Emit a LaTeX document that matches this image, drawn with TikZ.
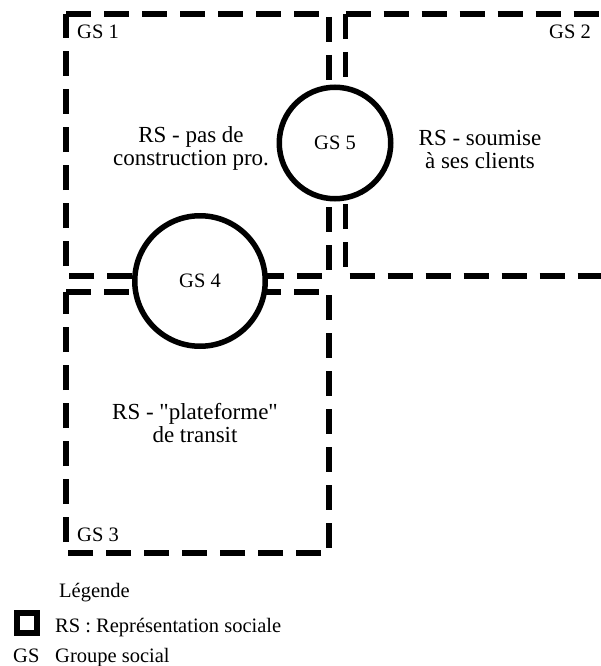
\documentclass[tikz,border=0pt]{standalone}
\usepackage{fontspec}
\setmainfont{Liberation Serif}[Ligatures=TeXOff]
\begin{document}
\begin{tikzpicture}[x=1pt,y=-1pt,
  gsbox/.style={line width=5.5pt, dash pattern=on 25pt off 13pt},
  gscircle/.style={circle, draw, line width=5.5pt, fill=white, inner sep=0pt,
    font=\fontsize{20.5}{22}\selectfont},
  gslabel/.style={font=\fontsize{20.5}{22}\selectfont, inner sep=0pt, anchor=base west},
  rslabel/.style={font=\fontsize{23}{23}\selectfont, align=center, inner sep=0pt},
  legendtext/.style={font=\fontsize{20.5}{24}\selectfont, inner sep=0pt, anchor=base west}]
\useasboundingbox (0,0) rectangle (601,666);

% GS 1 box
\draw[gsbox] (66,14) -- (329,14) -- (329,276) -- (66,276) -- cycle;
% GS 2 box (open to the right, cut by the page edge)
\begin{scope}
\clip (0,0) rectangle (601,666);
\draw[gsbox] (345.5,14) -- (620,14);
\draw[gsbox] (345.5,14) -- (345.5,276) -- (620,276);
\end{scope}
% GS 3 box
\draw[gsbox] (66,292) -- (329,292) -- (329,553) -- (66,553) -- cycle;

% circles
\node[gscircle, minimum size=130.5pt] (gs4) at (200,281) {GS 4};
\node[gscircle, minimum size=111.5pt] (gs5) at (335,143) {GS 5};

% group labels
\node[gslabel] (gs1) at (77,39) {GS 1};
\node[gslabel] (gs2) at (549,39) {GS 2};
\node[gslabel] (gs3) at (77,541) {GS 3};

% representation texts
\node[rslabel] (rs1) at (191,148) {RS - pas de\\construction pro.};
\node[rslabel] (rs2) at (480,149.5) {RS - soumise\\à ses clients};
\node[rslabel] (rs3) at (195,423.5) {RS - "plateforme"\\de transit};

% legend
\node[legendtext] (leg) at (59,597) {Légende};
\node[draw, line width=6pt, minimum size=20pt, inner sep=0pt] (sq) at (27,623) {};
\node[legendtext] (legrs) at (55,632) {RS : Représentation sociale};
\node[legendtext] (leggsa) at (13,662) {GS};
\node[legendtext] (leggs) at (55,662) {Groupe social};
\end{tikzpicture}
\end{document}
